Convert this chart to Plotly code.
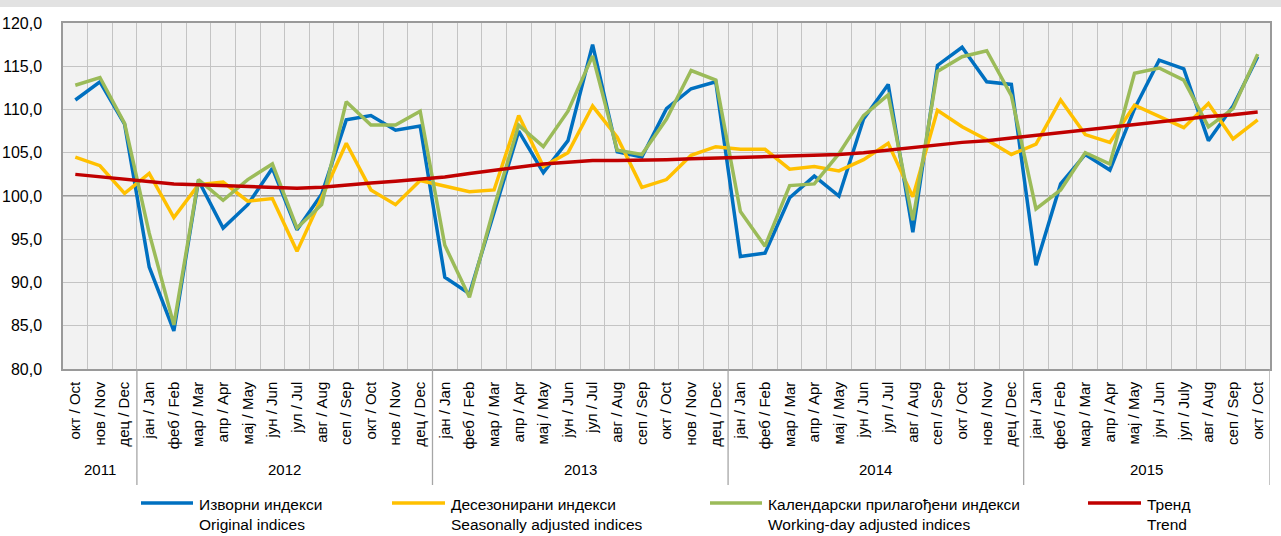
import plotly.graph_objects as go

# ---- data ----
months_cyr = ["јан", "феб", "мар", "апр", "мај", "јун", "јул", "авг", "сеп", "окт", "нов", "дец"]
months_en = ["Jan", "Feb", "Mar", "Apr", "May", "Jun", "Jul", "Aug", "Sep", "Oct", "Nov", "Dec"]
years = ["2011", "2012", "2013", "2014", "2015"]
year_counts = [3, 12, 12, 12, 10]
start_month_index = 9  # October 2011

original = [111.1, 113.2, 108.3, 91.8, 84.4, 101.8, 96.3, 99.0, 103.2, 96.1, 100.2,
            108.8, 109.3, 107.6, 108.1, 90.6, 88.7, 98.0, 107.5, 102.7, 106.4, 117.5, 105.1, 104.5,
            110.1, 112.4, 113.2, 93.0, 93.4, 99.8, 102.3, 100.0, 108.9, 112.9, 95.8, 115.1, 117.2,
            113.2, 112.9, 92.0, 101.4, 104.8, 103.0, 110.1, 115.7, 114.7, 106.4, 110.4, 116.1]
seasonal = [104.5, 103.5, 100.3, 102.6, 97.5, 101.3, 101.6, 99.4, 99.7, 93.6, 99.8,
            106.1, 100.7, 99.0, 101.8, 101.2, 100.5, 100.7, 109.3, 103.4, 105.0, 110.4, 106.8, 101.0,
            101.9, 104.7, 105.7, 105.4, 105.4, 103.1, 103.4, 102.9, 104.2, 106.1, 99.9, 109.9, 108.0,
            106.5, 104.8, 106.0, 111.1, 107.1, 106.2, 110.5, 109.2, 107.9, 110.7, 106.6, 108.8]
workday = [112.8, 113.7, 108.4, 95.7, 85.1, 101.9, 99.5, 101.9, 103.7, 96.3, 99.0,
           110.9, 108.2, 108.2, 109.8, 94.3, 88.3, 98.7, 108.2, 105.7, 109.8, 116.2, 105.3, 104.8,
           108.9, 114.5, 113.4, 98.2, 94.2, 101.2, 101.4, 104.9, 109.3, 111.7, 97.2, 114.4, 116.1,
           116.8, 111.6, 98.5, 100.7, 105.0, 103.7, 114.2, 114.8, 113.4, 108.0, 110.1, 116.4]
trend = [102.5, 102.2, 101.9, 101.6, 101.4, 101.3, 101.2, 101.0, 100.9, 100.9, 101.0,
         101.3, 101.5, 101.7, 101.9, 102.2, 102.6, 103.0, 103.4, 103.7, 103.9, 104.1, 104.1, 104.1,
         104.2, 104.3, 104.4, 104.5, 104.6, 104.6, 104.7, 104.8, 105.0, 105.3, 105.5, 105.9, 106.2,
         106.4, 106.7, 107.1, 107.4, 107.7, 108.0, 108.3, 108.6, 108.9, 109.2, 109.4, 109.7]

series_names = [("Изворни индекси", "Original indices"),
                ("Десезонирани индекси", "Seasonally adjusted indices"),
                ("Календарски прилагођени индекси", "Working-day adjusted indices"),
                ("Тренд", "Trend")]
y_ticks = [80, 85, 90, 95, 100, 105, 110, 115, 120]

# ---- build tick labels ----
labels = []
m = start_month_index
for yc in year_counts:
    for _ in range(yc):
        labels.append(f"{months_cyr[m % 12]} / {months_en[m % 12]}")
        m += 1
labels[-4] = "јул / July"  # as printed in the source for July 2015
n = len(labels)
x = list(range(n))

colors = ["#0070C0", "#FFC000", "#9BBB59", "#C00000"]
FONT = "Liberation Sans Narrow, Arial Narrow, Liberation Sans, Arial, sans-serif"

W, H = 1281, 536
L, R, T, B = 63, 11, 23, 167
PW, PH = W - L - R, H - T - B


def px2x(px):
    return (px - L) / PW


def py2y(py):
    return (H - B - py) / PH


fig = go.Figure()
for vals, col, nm in zip([original, seasonal, workday, trend], colors, series_names):
    fig.add_trace(go.Scatter(x=x, y=vals, mode="lines", name=nm[0],
                             line=dict(color=col, width=3.5), showlegend=False))

# darker axis-crossing line at 100
fig.add_hline(y=100, line=dict(color="#808080", width=1.5), layer="below")

shapes = []
annotations = []
# year dividers & labels
bounds = [-0.5]
for yc in year_counts:
    bounds.append(bounds[-1] + yc)
for b in bounds:
    shapes.append(dict(type="line", xref="x", yref="paper", x0=b, x1=b,
                       y0=0, y1=py2y(485), line=dict(color="#A6A6A6", width=1.3)))
for i, yr in enumerate(years):
    annotations.append(dict(xref="x", yref="paper", x=(bounds[i] + bounds[i + 1]) / 2,
                            y=py2y(470), text=yr, showarrow=False,
                            font=dict(family=FONT, size=15, color="#000000"),
                            xanchor="center", yanchor="middle"))

# manual legend
leg_x = [(141, 193), (392, 445), (710, 762), (1088, 1141)]
for (x0, x1), col, nm in zip(leg_x, colors, series_names):
    shapes.append(dict(type="line", xref="paper", yref="paper", x0=px2x(x0), x1=px2x(x1),
                       y0=py2y(503), y1=py2y(503), line=dict(color=col, width=3.5)))
    annotations.append(dict(xref="paper", yref="paper", x=px2x(x1 + 4), y=py2y(514),
                            text=f"{nm[0]}<br>{nm[1]}", showarrow=False, align="left",
                            xanchor="left", yanchor="middle",
                            font=dict(family=FONT, size=15.5, color="#000000")))

# top shadow band
shapes.append(dict(type="rect", xref="paper", yref="paper", x0=px2x(0), x1=px2x(W),
                   y0=py2y(7), y1=py2y(0), fillcolor="#E2E2E2", line=dict(width=0), layer="below"))

fig.update_layout(
    width=W, height=H,
    margin=dict(l=L, r=R, t=T, b=B, pad=0, autoexpand=False),
    paper_bgcolor="#FFFFFF", plot_bgcolor="#F2F2F2",
    separators=", ",
    shapes=shapes, annotations=annotations,
    font=dict(family=FONT, size=15, color="#000000"),
)
fig.update_xaxes(range=[-0.5, n - 0.5], tickmode="array", tickvals=x, ticktext=labels,
                 tickangle=-90, tickfont=dict(family=FONT, size=15, color="#000000"),
                 showgrid=False, zeroline=False, ticks="", ticklabelstandoff=5, automargin=False,
                 showline=True, linecolor="#9A9A9A", linewidth=1.5, mirror=True,
                 minor=dict(tickvals=[b - 0.5 for b in range(n + 1)], showgrid=True,
                            gridcolor="#C4C4C4", gridwidth=1.3, ticks=""))
fig.update_yaxes(range=[80, 120], tickmode="array", tickvals=y_ticks, tickformat=".1f",
                 tickfont=dict(family=FONT, size=16, color="#000000"),
                 showgrid=True, gridcolor="#C4C4C4", gridwidth=1.3, zeroline=False,
                 ticks="", ticklabelstandoff=16, automargin=False,
                 showline=True, linecolor="#9A9A9A", linewidth=1.5, mirror=True)

fig.write_html("out.html", config={"displayModeBar": False},
               post_script="document.body.style.margin='0';")
